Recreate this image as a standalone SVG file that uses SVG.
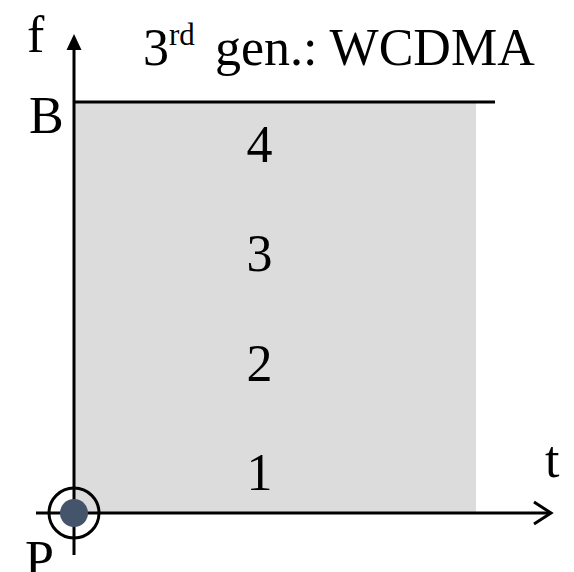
<svg xmlns="http://www.w3.org/2000/svg" width="574" height="572" viewBox="0 0 574 572">
<style>
.t{font-family:"Liberation Serif","Times New Roman",serif;font-size:52px;fill:#000}
.ax{stroke:#000;stroke-width:3;fill:none}
</style>
<defs>
<marker id="tri" markerUnits="userSpaceOnUse" markerWidth="16" markerHeight="16" refX="8" refY="0" viewBox="0 0 16 16" orient="auto" overflow="visible">
<path d="M0,-7.5 L15,0 L0,7.5 Z" fill="#000" transform="translate(-7,0)"/>
</marker>
</defs>
<rect id="band" x="75" y="102" width="401" height="411" fill="#dcdcdc"/>
<g id="connectors">
<line class="ax" x1="74" y1="555" x2="74" y2="48"/>
<path d="M66.5,50 L74,34 L81.5,50 Z" fill="#000"/>
<line class="ax" x1="36" y1="513" x2="551" y2="513"/>
<polyline class="ax" points="534,502 551,513 534,524"/>
<line class="ax" x1="74" y1="102" x2="495" y2="102"/>
</g>
<g id="origin">
<circle cx="74" cy="513" r="25" fill="none" stroke="#000" stroke-width="3"/>
<circle cx="74" cy="513" r="14" fill="#44546a"/>
</g>
<g id="labels">
<text class="t" x="27" y="52">f</text>
<text class="t" x="29" y="133">B</text>
<text class="t" x="545" y="477">t</text>
<text class="t" x="25" y="577">P</text>
<text class="t" x="143" y="65">3<tspan font-size="31" dy="-20">rd</tspan><tspan x="215" dy="20">gen.: WCDMA</tspan></text>
<text class="t" x="259.5" y="162" text-anchor="middle">4</text>
<text class="t" x="259.5" y="271" text-anchor="middle">3</text>
<text class="t" x="259.5" y="381" text-anchor="middle">2</text>
<text class="t" x="259.5" y="490" text-anchor="middle">1</text>
</g>
</svg>
